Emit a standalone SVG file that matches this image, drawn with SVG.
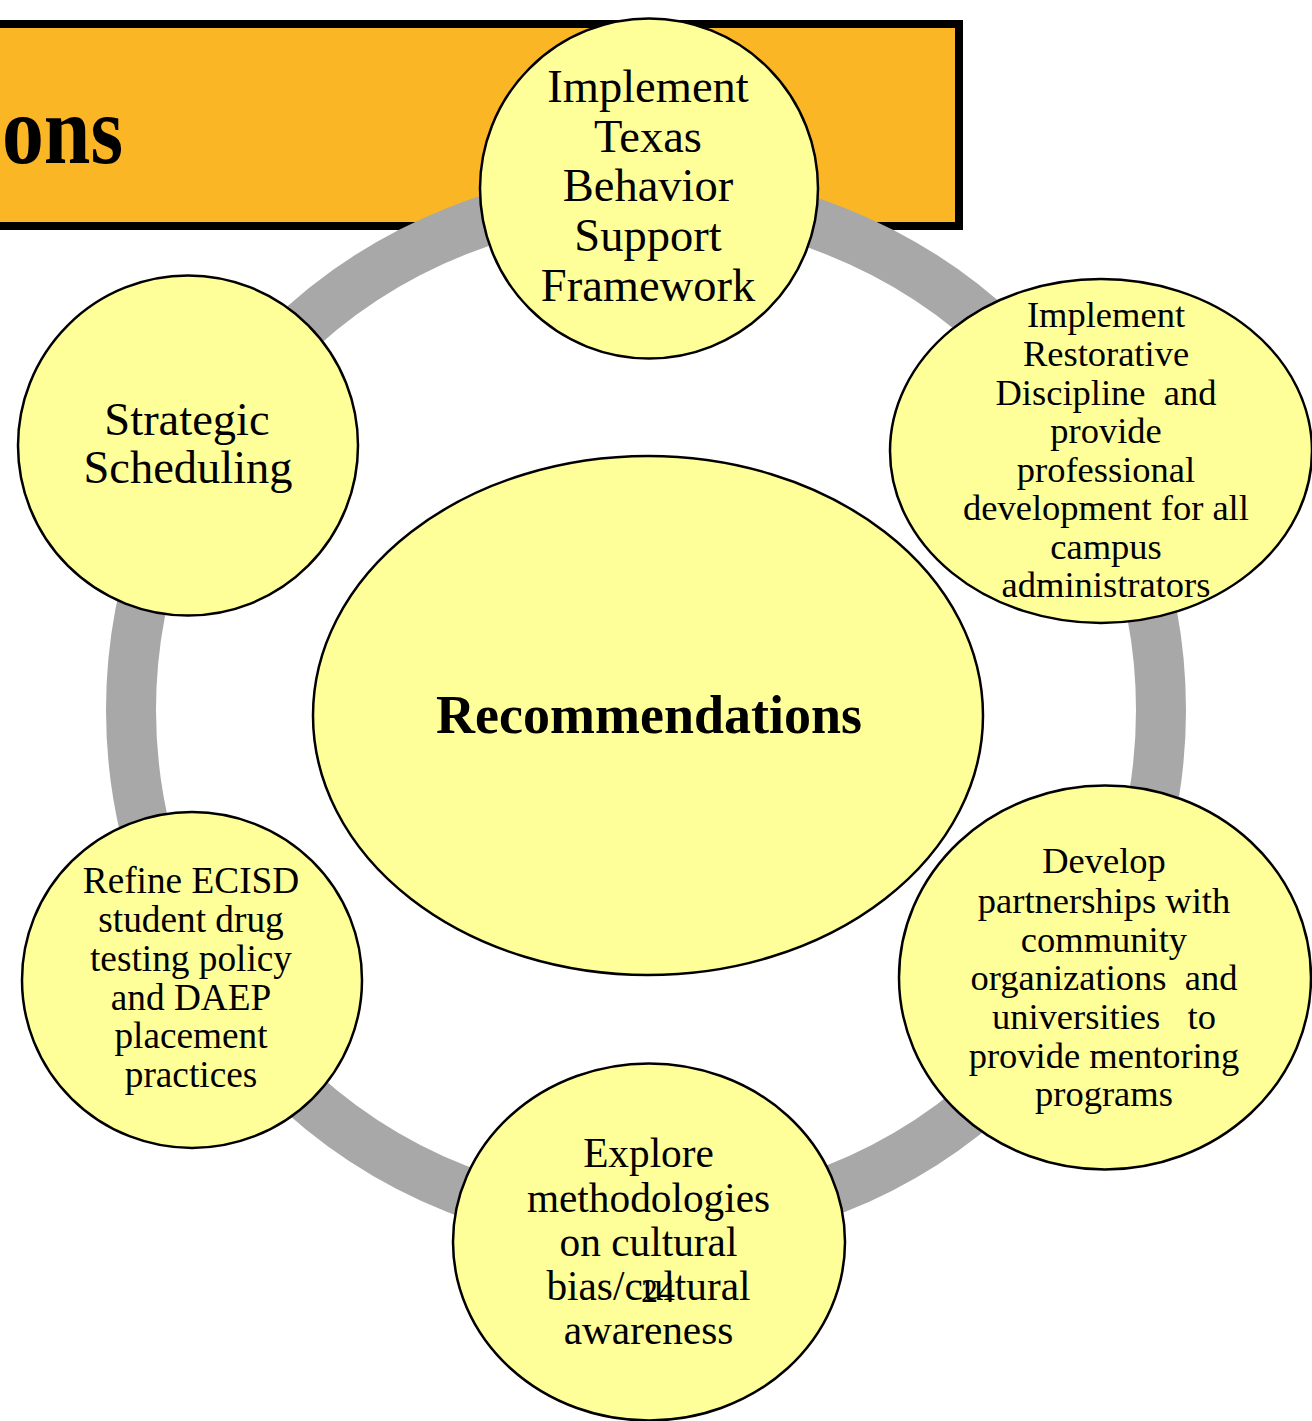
<svg xmlns="http://www.w3.org/2000/svg" width="1312" height="1421" viewBox="0 0 1312 1421">
<style>
.node{fill:#FFFF99;stroke:#000;stroke-width:2.5}
.t{font-family:"Liberation Serif","Times New Roman",serif;fill:#000;text-anchor:middle}
.ring{fill:none;stroke:#A8A8A8;stroke-width:50}
</style>
<rect width="1312" height="1421" fill="#fff"/>
<g id="title">
<rect x="-10" y="24" width="969" height="202" fill="#FBB626" stroke="#000" stroke-width="8"/>
<text x="2" y="163" font-family="Liberation Serif, Times New Roman, serif" font-weight="bold" font-size="98" textLength="121" lengthAdjust="spacingAndGlyphs">ons</text>
</g>
<g id="connectors">
<circle class="ring" cx="646" cy="710" r="515"/>
</g>
<g id="node-tbsf">
<ellipse class="node" cx="649" cy="188.5" rx="169" ry="170"/>
<text class="t" font-size="46.5"><tspan x="648" y="102">Implement</tspan><tspan x="648" y="152">Texas</tspan><tspan x="648" y="201">Behavior</tspan><tspan x="648" y="251">Support</tspan><tspan x="648" y="301">Framework</tspan></text>
</g>
<g id="node-restorative">
<ellipse class="node" cx="1101" cy="451" rx="211" ry="172"/>
<text class="t" font-size="36.5" xml:space="preserve"><tspan x="1106" y="327">Implement</tspan><tspan x="1106" y="366">Restorative</tspan><tspan x="1106" y="405">Discipline  and</tspan><tspan x="1106" y="443">provide</tspan><tspan x="1106" y="482">professional</tspan><tspan x="1106" y="520">development for all</tspan><tspan x="1106" y="559">campus</tspan><tspan x="1106" y="597">administrators</tspan></text>
</g>
<g id="node-scheduling">
<ellipse class="node" cx="188" cy="445.5" rx="170" ry="170"/>
<text class="t" font-size="46.5"><tspan x="187" y="435">Strategic</tspan><tspan x="188" y="483">Scheduling</tspan></text>
</g>
<g id="node-center">
<ellipse class="node" cx="648" cy="715.5" rx="335" ry="259.5"/>
<text class="t" x="649" y="733" font-size="55" font-weight="bold" textLength="426" lengthAdjust="spacingAndGlyphs">Recommendations</text>
</g>
<g id="node-drug">
<ellipse class="node" cx="192" cy="980" rx="170" ry="168"/>
<text class="t" font-size="37.3"><tspan x="191" y="893">Refine ECISD</tspan><tspan x="191" y="932">student drug</tspan><tspan x="191" y="971">testing policy</tspan><tspan x="191" y="1010">and DAEP</tspan><tspan x="191" y="1048">placement</tspan><tspan x="191" y="1087">practices</tspan></text>
</g>
<g id="node-partnerships">
<ellipse class="node" cx="1105" cy="977.5" rx="206" ry="192"/>
<text class="t" font-size="36.5" xml:space="preserve"><tspan x="1104" y="873">Develop</tspan><tspan x="1104" y="913">partnerships with</tspan><tspan x="1104" y="952">community</tspan><tspan x="1104" y="990">organizations  and</tspan><tspan x="1104" y="1029">universities   to</tspan><tspan x="1104" y="1068">provide mentoring</tspan><tspan x="1104" y="1106">programs</tspan></text>
</g>
<g id="node-cultural">
<ellipse class="node" cx="649" cy="1242" rx="196" ry="178.5"/>
<text class="t" font-size="41.3"><tspan x="648.5" y="1167">Explore</tspan><tspan x="648.5" y="1212">methodologies</tspan><tspan x="648.5" y="1256">on cultural</tspan><tspan x="648.5" y="1300">bias/cultural</tspan><tspan x="648.5" y="1344">awareness</tspan></text>
<text x="641" y="1302" font-family="Liberation Serif, Times New Roman, serif" font-size="34">24</text>
</g>
</svg>
